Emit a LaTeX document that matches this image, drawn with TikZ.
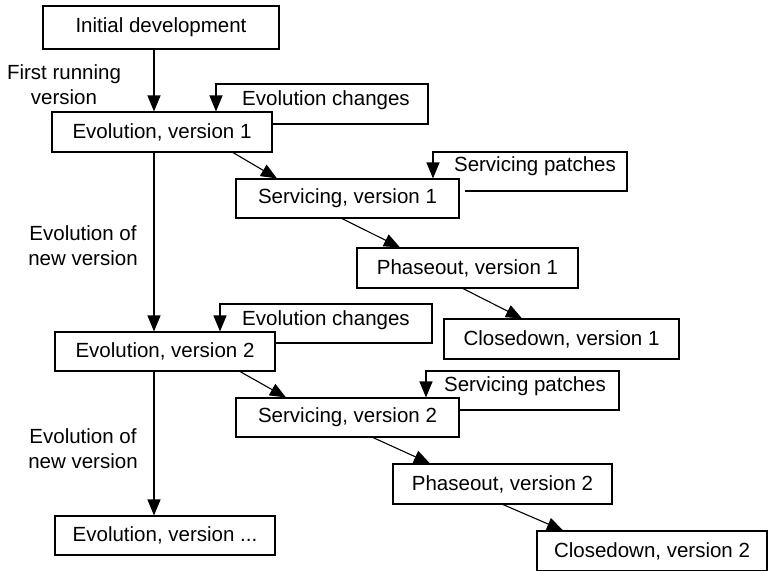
\documentclass[tikz,border=0pt]{standalone}
\usepackage{fontspec}
\setmainfont{Liberation Sans}
\usetikzlibrary{arrows.meta}
\begin{document}
\begin{tikzpicture}[x=1pt,y=-1pt,
  box/.style={draw, line width=1.1pt, inner sep=0pt, minimum height=40pt, font=\fontsize{20.5}{25}\selectfont},
  lbl/.style={inner sep=0pt, align=center, font=\fontsize{20.5}{25}\selectfont},
  arr/.style={line width=1.1pt, -{Triangle[length=16pt,width=13pt]}},
  loopline/.style={line width=1.1pt, -{Triangle[length=16pt,width=13pt]}}]
\clip (0,0) rectangle (768,570);
\fill[white] (0,0) rectangle (768,570);
% boxes
\node[box, minimum width=236pt, minimum height=43pt] (init) at (161,27.5) {Initial development};
\node[box, minimum width=220pt] (evo1) at (162,132) {Evolution, version 1};
\node[box, minimum width=223pt, minimum height=39pt] (serv1) at (347.5,198.5) {Servicing, version 1};
\node[box, minimum width=221pt] (phase1) at (467.5,268) {Phaseout, version 1};
\node[box, minimum width=235pt] (close1) at (561.5,339) {Closedown, version 1};
\node[box, minimum width=220pt, minimum height=39pt] (evo2) at (165,351.5) {Evolution, version 2};
\node[box, minimum width=223pt, minimum height=39pt] (serv2) at (347.5,417.5) {Servicing, version 2};
\node[box, minimum width=219pt] (phase2) at (502.5,484) {Phaseout, version 2};
\node[box, minimum width=230pt] (close2) at (652,551) {Closedown, version 2};
\node[box, minimum width=220pt, minimum height=39pt] (evoN) at (165,535.5) {Evolution, version ...};
% labels
\node[lbl] (lfirst) at (64,85) {First running\\version};
\node[lbl] (lnew1) at (83,246) {Evolution of\\new version};
\node[lbl] (lnew2) at (83,449) {Evolution of\\new version};
\node[lbl] (lec1) at (326,100) {Evolution changes};
\node[lbl] (lsp1) at (535,166) {Servicing patches};
\node[lbl] (lec2) at (326,320) {Evolution changes};
\node[lbl] (lsp2) at (525,386) {Servicing patches};
% vertical arrows
\draw[arr] (init.south -| 154,0) -- (evo1.north -| 154,0);
\draw[arr] (evo1.south -| 154,0) -- (evo2.north -| 154,0);
\draw[arr] (evo2.south -| 154,0) -- (evoN.north -| 154,0);
% diagonal arrows
\draw[arr] (evo1.south -| 233,0) -- (serv1.north -| 277,0);
\draw[arr] (serv1.south -| 342,0) -- (phase1.north -| 400,0);
\draw[arr] (phase1.south -| 463,0) -- (close1.north -| 522,0);
\draw[arr] (evo2.south -| 240,0) -- (serv2.north -| 286,0);
\draw[arr] (serv2.south -| 373,0) -- (phase2.north -| 430,0);
\draw[arr] (phase2.south -| 503,0) -- (close2.north -| 563,0);
% feedback loops
\draw[loopline] (evo1.east |- 0,124) -- (428,124) -- (428,84) -- (216,84) -- (evo1.north -| 216,0);
\draw[loopline] ([xshift=5pt]serv1.east |- 0,191) -- (627,191) -- (627,152) -- (433,152) -- (serv1.north -| 433,0);
\draw[loopline] (evo2.east |- 0,343) -- (432,343) -- (432,304) -- (220,304) -- (evo2.north -| 220,0);
\draw[loopline] (serv2.east |- 0,410) -- (619,410) -- (619,371) -- (426,371) -- (serv2.north -| 426,0);
\end{tikzpicture}
\end{document}
